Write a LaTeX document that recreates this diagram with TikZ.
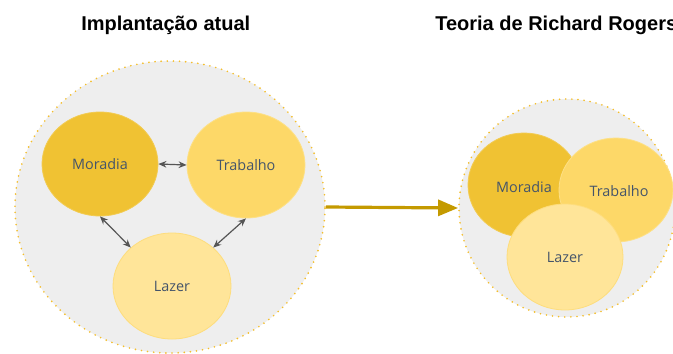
\documentclass[tikz,border=0pt]{standalone}
\usepackage{fontspec}
\setmainfont{Open Sans}
\newfontfamily\titlefont{Liberation Sans}
\usetikzlibrary{shapes.geometric,arrows.meta}
\definecolor{bgray}{HTML}{EEEEEE}
\definecolor{dotgold}{HTML}{F4BE2C}
\definecolor{cmor}{HTML}{F0C233}
\definecolor{ctra}{HTML}{FDD868}
\definecolor{claz}{HTML}{FFE599}
\definecolor{txt}{HTML}{44546A}
\definecolor{arrgold}{HTML}{C49A00}
\definecolor{arrgray}{HTML}{555555}
\tikzset{
  bigcirc/.style={ellipse, fill=bgray, draw=dotgold, line width=1.4pt,
    dash pattern=on 0pt off 4.6pt, line cap=round, inner sep=0pt},
  blob/.style={ellipse, inner sep=0pt, font=\fontsize{10.8}{12}\selectfont,
    text=txt, line width=0.6pt},
  mor/.style={blob, fill=cmor, draw=cmor!85!white},
  tra/.style={blob, fill=ctra, draw=ctra!80!white},
  laz/.style={blob, fill=claz, draw=ctra!60!claz},
  link/.style={draw=arrgray, line width=0.9pt, {Stealth[length=6pt,width=5pt]}-{Stealth[length=6pt,width=5pt]}},
  bigarrow/.style={draw=arrgold, line width=2.4pt, -{Triangle[length=15pt,width=12pt]}},
  title/.style={font=\titlefont\bfseries\fontsize{15}{17}\selectfont, text=black, inner sep=0pt}
}
\begin{document}
\begin{tikzpicture}[x=0.75pt,y=-0.75pt]
\useasboundingbox (0,0) rectangle (673,353);
% titles
\node[title, anchor=base west] (title1) at (81,31) {Implantação atual};
\node[title, anchor=base west] (title2) at (435,31) {Teoria de Richard Rogers};
% left group
\node[bigcirc, minimum width=232.5pt, minimum height=219pt] (leftbg) at (170,207) {};
\node[mor, minimum width=87pt, minimum height=78pt] (m1) at (100,164) {Moradia};
\node[tra, minimum width=88.5pt, minimum height=79.5pt] (t1) at (246,165) {Trabalho};
\node[laz, minimum width=88.5pt, minimum height=79.5pt] (l1) at (172,286) {Lazer};
\draw[link] (m1.east) -- (t1.west);
\draw[link] (m1.south) -- (l1.137);
\draw[link] (t1.south) -- (l1.43);
% right group
\node[bigcirc, minimum width=162pt, minimum height=163.5pt] (rightbg) at (567,208) {};
\node[mor, minimum width=84pt, minimum height=78pt] (m2) at (524,185) {};
\node[tra, minimum width=85.5pt, minimum height=78pt] (t2) at (616,190) {};
\node[laz, minimum width=87pt, minimum height=79.5pt] (l2) at (565,257) {Lazer};
\node[blob] (m2t) at (524,187) {Moradia};
\node[blob] (t2t) at (619,191) {Trabalho};
% big arrow
\draw[bigarrow] (leftbg.east) -- (rightbg.west);
\end{tikzpicture}
\end{document}
